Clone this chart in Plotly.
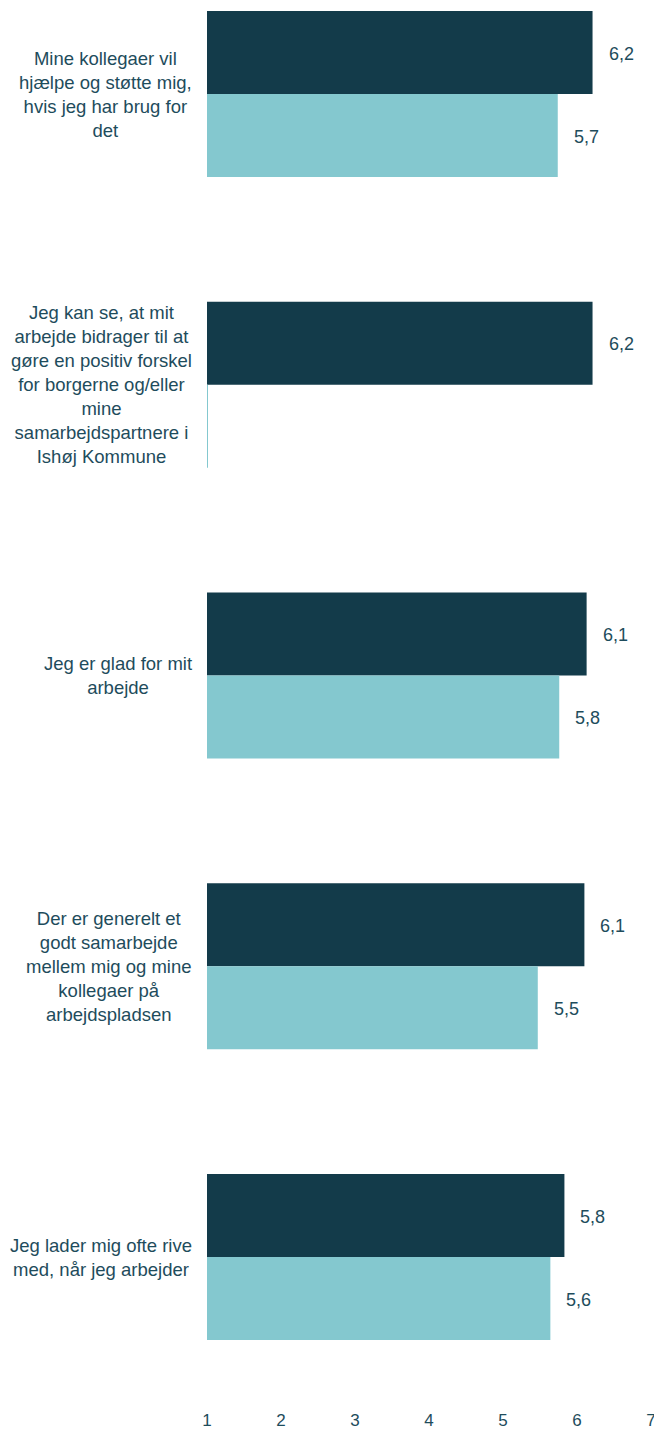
import plotly.graph_objects as go

categories = [
    "Mine kollegaer vil<br>hjælpe og støtte mig,<br>hvis jeg har brug for<br>det",
    "Jeg kan se, at mit<br>arbejde bidrager til at<br>gøre en positiv forskel<br>for borgerne og/eller<br>mine<br>samarbejdspartnere i<br>Ishøj Kommune",
    "Jeg er glad for mit<br>arbejde",
    "Der er generelt et<br>godt samarbejde<br>mellem mig og mine<br>kollegaer på<br>arbejdspladsen",
    "Jeg lader mig ofte rive<br>med, når jeg arbejder",
]
series_dark = [6.21, 6.21, 6.13, 6.10, 5.83]
series_light = [5.74, 1.01, 5.76, 5.47, 5.64]
show_light_label = [True, False, True, True, True]
x_ticks = [1, 2, 3, 4, 5, 6, 7]

DARK = "#133B4A"
LIGHT = "#84C8CF"
TEXT = "#1E4C5C"
FONT = "Liberation Sans, Arial, sans-serif"

ids = list(range(len(categories)))

fig = go.Figure()
fig.add_trace(go.Bar(y=ids, x=[v - 1 for v in series_dark], base=1, orientation="h",
                     marker=dict(color=DARK, line=dict(width=0)), offsetgroup="a", hoverinfo="skip"))
fig.add_trace(go.Bar(y=ids, x=[v - 1 for v in series_light], base=1, orientation="h",
                     marker=dict(color=LIGHT, line=dict(width=0)), offsetgroup="b", hoverinfo="skip"))

def fmt(v):
    return f"{v:.1f}".replace(".", ",")

bar_px = 41.5
for i, (d, l) in enumerate(zip(series_dark, series_light)):
    fig.add_annotation(x=d, y=i, xref="x", yref="y", text=fmt(d), showarrow=False,
                       xanchor="left", xshift=14, yshift=bar_px - 1,
                       font=dict(family=FONT, size=18, color=TEXT))
    if show_light_label[i]:
        fig.add_annotation(x=l, y=i, xref="x", yref="y", text=fmt(l), showarrow=False,
                           xanchor="left", xshift=14, yshift=-bar_px - 1,
                           font=dict(family=FONT, size=18, color=TEXT))
    fig.add_annotation(x=0, y=i, xref="paper", yref="y", text=categories[i], showarrow=False,
                       xanchor="right", align="center", xshift=-13,
                       font=dict(family=FONT, size=18.5, color=TEXT))

fig.update_layout(
    width=654, height=1424,
    margin=dict(l=199, r=11, t=0, b=24),
    paper_bgcolor="white", plot_bgcolor="white",
    showlegend=False,
    barmode="group", bargap=0.429, bargroupgap=0,
    font=dict(family=FONT, color=TEXT),
    xaxis=dict(range=[1, 7], tickvals=x_ticks, ticktext=[str(t) for t in x_ticks],
               showgrid=False, zeroline=False, showline=False, automargin=False,
               ticks="",
               tickfont=dict(size=17, color=TEXT, family=FONT)),
    yaxis=dict(range=[4.519, -0.296], showticklabels=False, showgrid=False,
               zeroline=False, showline=False, automargin=False),
)

fig.write_html("out.html")
